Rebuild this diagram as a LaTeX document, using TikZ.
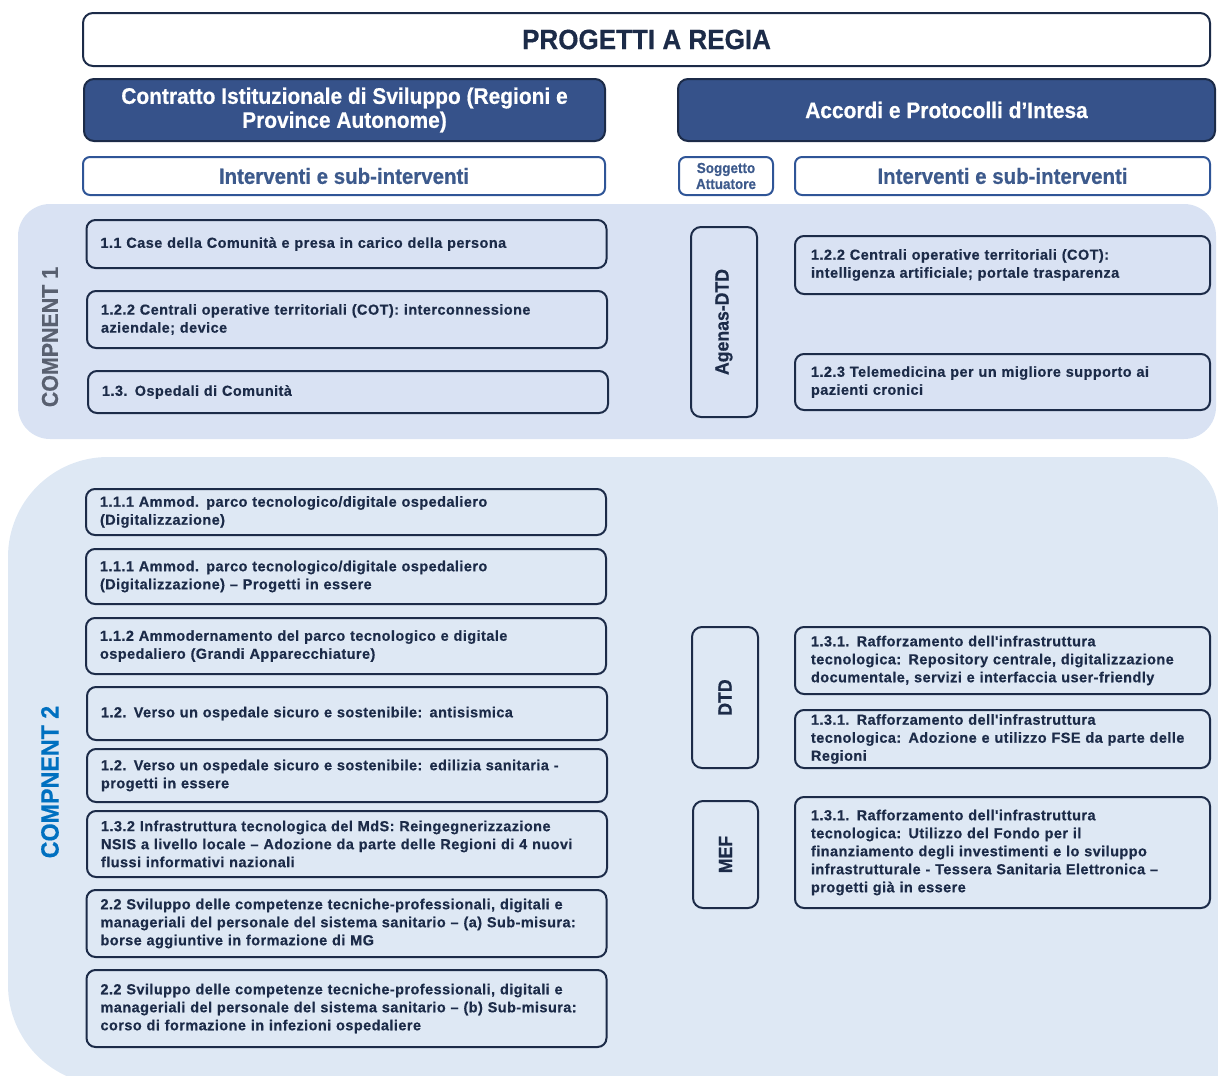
\documentclass[tikz,border=0pt]{standalone}
\usepackage{fontspec}
\setmainfont{Liberation Sans}
\newfontfamily\narrowfam[FakeStretch=0.93, BoldFeatures={FakeBold=0.5}]{Liberation Sans}
\newfontfamily\boxfam[LetterSpace=3, BoldFeatures={FakeBold=0.5}]{Liberation Sans}

\definecolor{navy}{HTML}{1C2B48}
\definecolor{hdrfill}{HTML}{36528A}
\definecolor{midblue}{HTML}{2F5597}
\definecolor{inttext}{HTML}{3D5A8C}
\definecolor{bgone}{HTML}{D9E2F3}
\definecolor{bgtwo}{HTML}{DEE8F4}
\definecolor{compgray}{HTML}{596070}
\definecolor{compblue}{HTML}{0070C0}

\newcommand\itemfont{\boxfam\bfseries\fontsize{14.5}{18}\selectfont\spaceskip=0.42em\relax}

\tikzset{
  titlebox/.style={draw=navy, line width=2pt, rounded corners=10pt, fill=white,
    text=navy, font=\narrowfam\bfseries\fontsize{28}{30}\selectfont, inner sep=0pt},
  hdrbox/.style={draw=navy, line width=2pt, rounded corners=10pt, fill=hdrfill,
    text=white, align=center, inner sep=0pt,
    font=\narrowfam\bfseries\fontsize{22.5}{24}\selectfont},
  subbox/.style={draw=midblue, line width=2pt, rounded corners=7pt, fill=white,
    text=inttext, align=center, inner sep=0pt,
    font=\narrowfam\bfseries\fontsize{22}{24}\selectfont},
  soggbox/.style={subbox, font=\narrowfam\bfseries\fontsize{14.5}{16}\selectfont},
  itembox/.style={draw=navy, line width=2pt, rounded corners=9pt,
    text=navy, align=left, inner xsep=14pt, inner ysep=0pt, font=\itemfont},
  leftitem/.style={itembox, text width=492pt},
  rightitem/.style={itembox, inner xsep=16pt, text width=383pt},
  actorbox/.style={draw=navy, line width=2pt, rounded corners=10pt, rotate=90,
    text=navy, inner sep=0pt, font=\narrowfam\bfseries\fontsize{19}{20}\selectfont},
  complabel/.style={rotate=90, inner sep=0pt, font=\narrowfam\bfseries\fontsize{23}{24}\selectfont}
}

\begin{document}
\begin{tikzpicture}[x=1pt, y=-1pt]
\useasboundingbox (0,0) rectangle (1218,1076);
\clip (0,0) rectangle (1218,1076);

% component bands
\fill[bgone, rounded corners=32pt] (18,204) rectangle (1216,439);
\fill[bgtwo] (1218,820) [rounded corners=55pt] -- (1218,457)
  [rounded corners=100pt] -- (8,457) -- (8,1085)
  [sharp corners] -- (1218,1085) -- cycle;

% header row
\node[titlebox, minimum width=1127pt, minimum height=53pt] (title) at (646.5,39.5) {PROGETTI A REGIA};
\node[hdrbox, minimum width=521pt, minimum height=62pt] (hdrL) at (344.5,110)
  {Contratto Istituzionale di Sviluppo (Regioni e\\Province Autonome)};
\node[hdrbox, minimum width=537pt, minimum height=62pt] (hdrR) at (946.5,110)
  {Accordi e Protocolli d’Intesa};

\node[subbox, minimum width=522pt, minimum height=38pt] (intL) at (344,176) {Interventi e sub-interventi};
\node[soggbox, minimum width=94pt, minimum height=38pt] (sogg) at (726,176) {Soggetto\\Attuatore};
\node[subbox, minimum width=415pt, minimum height=38pt] (intR) at (1002.5,176) {Interventi e sub-interventi};

% component labels
\node[complabel, text=compgray] (compA) at (50,337) {COMPNENT 1};
\node[complabel, text=compblue, font=\narrowfam\bfseries\fontsize{25}{26}\selectfont] (compB) at (50,782) {COMPNENT 2};

% component 1
\node[leftitem, minimum height=48pt] (a1) at (346.5,244)
  {1.1 Case della Comunità e presa in carico della persona};
\node[leftitem, minimum height=57pt] (a2) at (347,319.5)
  {1.2.2 Centrali operative territoriali (COT): interconnessione\\aziendale; device};
\node[leftitem, minimum height=42pt] (a3) at (348,392)
  {1.3. Ospedali di Comunità};

\node[actorbox, minimum width=190pt, minimum height=66pt] (agenas) at (724,322) {Agenas-DTD};

\node[rightitem, minimum height=58pt] (ra1) at (1002.5,265)
  {1.2.2 Centrali operative territoriali (COT):\\intelligenza artificiale; portale trasparenza};
\node[rightitem, minimum height=56pt] (ra2) at (1002.5,382)
  {1.2.3 Telemedicina per un migliore supporto ai\\pazienti cronici};

% component 2
\node[leftitem, minimum height=46pt] (b1) at (346,512)
  {1.1.1 Ammod. parco tecnologico/digitale ospedaliero\\(Digitalizzazione)};
\node[leftitem, minimum height=55pt] (b2) at (346,576.5)
  {1.1.1 Ammod. parco tecnologico/digitale ospedaliero\\(Digitalizzazione) – Progetti in essere};
\node[leftitem, minimum height=56pt] (b3) at (346,646)
  {1.1.2 Ammodernamento del parco tecnologico e digitale\\ospedaliero (Grandi Apparecchiature)};
\node[leftitem, minimum height=53pt] (b4) at (347,713.5)
  {1.2. Verso un ospedale sicuro e sostenibile: antisismica};
\node[leftitem, minimum height=53pt] (b5) at (347,775.5)
  {1.2. Verso un ospedale sicuro e sostenibile: edilizia sanitaria -\\progetti in essere};
\node[leftitem, minimum height=66pt] (b6) at (347,844)
  {1.3.2 Infrastruttura tecnologica del MdS: Reingegnerizzazione\\NSIS a livello locale – Adozione da parte delle Regioni di 4 nuovi\\flussi informativi nazionali};
\node[leftitem, minimum height=67pt] (b7) at (346.5,923.5)
  {2.2 Sviluppo delle competenze tecniche-professionali, digitali e\\manageriali del personale del sistema sanitario – (a) Sub-misura:\\borse aggiuntive in formazione di MG};
\node[leftitem, minimum height=77pt] (b8) at (346.5,1008.5)
  {2.2 Sviluppo delle competenze tecniche-professionali, digitali e\\manageriali del personale del sistema sanitario – (b) Sub-misura:\\corso di formazione in infezioni ospedaliere};

\node[actorbox, minimum width=141pt, minimum height=66pt] (dtd) at (725,697.5) {DTD};
\node[actorbox, minimum width=107pt, minimum height=65pt] (mef) at (725.5,854.5) {MEF};

\node[rightitem, minimum height=67pt] (rb1) at (1002.5,660.5)
  {1.3.1. Rafforzamento dell'infrastruttura\\tecnologica: Repository centrale, digitalizzazione\\documentale, servizi e interfaccia user-friendly};
\node[rightitem, minimum height=58pt] (rb2) at (1002.5,739)
  {1.3.1. Rafforzamento dell'infrastruttura\\tecnologica: Adozione e utilizzo FSE da parte delle\\Regioni};
\node[rightitem, minimum height=111pt] (rb3) at (1002.5,852.5)
  {1.3.1. Rafforzamento dell'infrastruttura\\tecnologica: Utilizzo del Fondo per il\\finanziamento degli investimenti e lo sviluppo\\infrastrutturale - Tessera Sanitaria Elettronica –\\progetti già in essere};
\end{tikzpicture}
\end{document}
